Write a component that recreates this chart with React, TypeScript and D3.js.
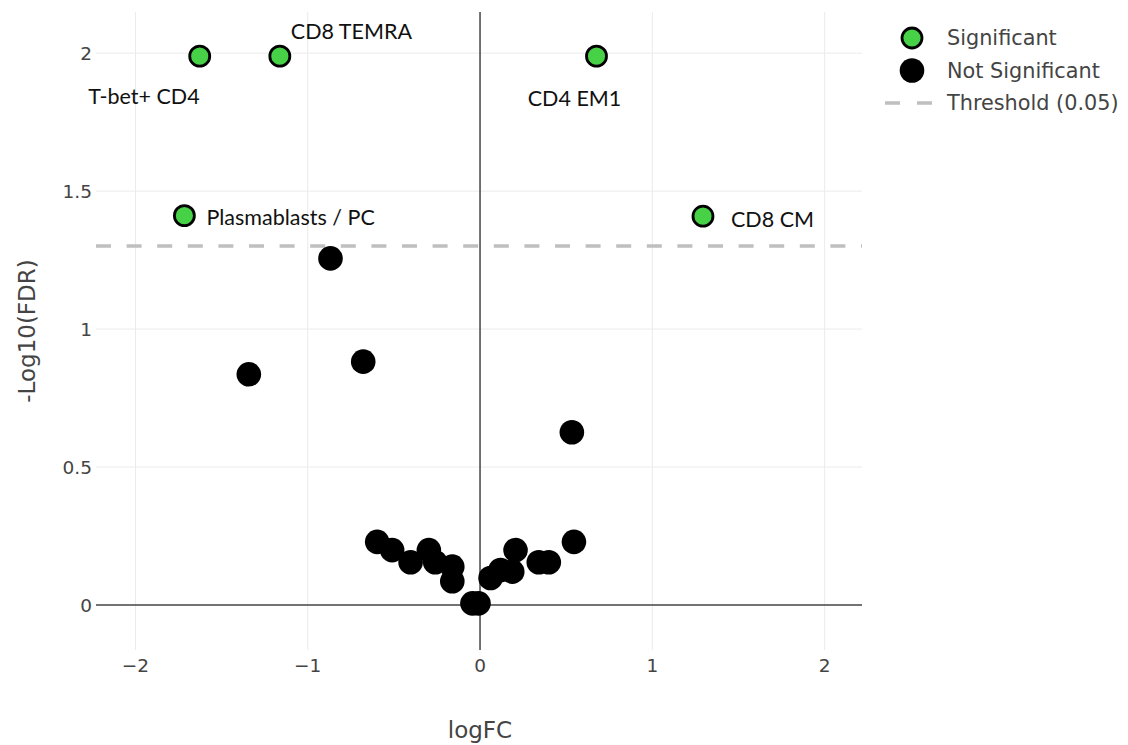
import React from "react";
import * as d3 from "d3";

// Significant populations (FDR < 0.05)
const sigLabels = ["T-bet+ CD4", "CD8 TEMRA", "Plasmablasts / PC", "CD4 EM1", "CD8 CM"];
const sigLogFC = [-1.627, -1.162, -1.716, 0.676, 1.294];
const sigNegLogFDR = [1.989, 1.989, 1.411, 1.989, 1.409];

// Non-significant populations
const nsLogFC = [
  -0.868, -1.342, -0.678, 0.533, -0.597, -0.51, -0.403, -0.297, -0.26, -0.161,
  -0.161, -0.044, -0.009, 0.061, 0.119, 0.187, 0.206, 0.341, 0.399, 0.545,
];
const nsNegLogFDR = [
  1.256, 0.836, 0.882, 0.626, 0.229, 0.199, 0.155, 0.199, 0.155, 0.139,
  0.086, 0.006, 0.006, 0.098, 0.127, 0.121, 0.199, 0.155, 0.155, 0.229,
];

const fdrThreshold = 0.05;
const xTicks = [-2, -1, 0, 1, 2];
const yTicks = [0, 0.5, 1, 1.5, 2];
const xDomain = [-2.229, 2.217];
const yDomain = [-0.163, 2.149];
const legendItems = ["Significant", "Not Significant", "Threshold (0.05)"];

// label placement relative to each marker
const labelPlacement: Record<string, { anchor: string; dx: number; dy: number }> = {
  "T-bet+ CD4": { anchor: "end", dx: 0, dy: 48 },
  "CD8 TEMRA": { anchor: "start", dx: 11, dy: -17 },
  "Plasmablasts / PC": { anchor: "start", dx: 22, dy: 9 },
  "CD4 EM1": { anchor: "middle", dx: -22, dy: 50 },
  "CD8 CM": { anchor: "start", dx: 28, dy: 11 },
};

const GREEN = "#47d147";
const TEXT = "#444";
const GRID = "#ebebeb";
const TICK_FONT = "'DejaVu Sans', Verdana, sans-serif";
const LABEL_FONT = "Lato, 'Open Sans', sans-serif";

export default function App() {
  const W = 1128;
  const H = 745;
  const left = 96, right = 862, top = 12, bottom = 650;

  const x = d3.scaleLinear().domain(xDomain).range([left, right]);
  const y = d3.scaleLinear().domain(yDomain).range([bottom, top]);
  const fmt = d3.format("");

  const thrY = y(-Math.log10(fdrThreshold));

  return (
    <svg
      width={W}
      height={H}
      style={{ position: "absolute", left: 0, top: 0, background: "#fff" }}
    >
      {/* grid */}
      {xTicks.filter((t) => t !== 0).map((t) => (
        <line key={"gx" + t} x1={x(t)} x2={x(t)} y1={top} y2={bottom} stroke={GRID} strokeWidth={1} />
      ))}
      {yTicks.filter((t) => t !== 0).map((t) => (
        <line key={"gy" + t} x1={left} x2={right} y1={y(t)} y2={y(t)} stroke={GRID} strokeWidth={1} />
      ))}

      {/* zero lines */}
      <line x1={left} x2={right} y1={y(0)} y2={y(0)} stroke="#444" strokeWidth={1.5} />
      <line x1={x(0)} x2={x(0)} y1={top} y2={bottom} stroke="#444" strokeWidth={1.5} />

      {/* threshold */}
      <line
        x1={left}
        x2={right}
        y1={thrY}
        y2={thrY}
        stroke="#bfbfbf"
        strokeWidth={3.5}
        strokeDasharray="15,15.6"
      />

      {/* tick labels */}
      {xTicks.map((t) => (
        <text
          key={"tx" + t}
          x={x(t)}
          y={672}
          textAnchor="middle"
          fontFamily={TICK_FONT}
          fontSize={18.5}
          fill={TEXT}
        >
          {fmt(t)}
        </text>
      ))}
      {yTicks.map((t) => (
        <text
          key={"ty" + t}
          x={92}
          y={y(t) + 6.5}
          textAnchor="end"
          fontFamily={TICK_FONT}
          fontSize={18.5}
          fill={TEXT}
        >
          {fmt(t)}
        </text>
      ))}

      {/* axis titles */}
      <text x={480} y={738} textAnchor="middle" fontFamily={TICK_FONT} fontSize={23} fill={TEXT}>
        logFC
      </text>
      <text
        transform={`translate(35, ${(top + bottom) / 2}) rotate(-90)`}
        textAnchor="middle"
        fontFamily={TICK_FONT}
        fontSize={23}
        fill={TEXT}
      >
        -Log10(FDR)
      </text>

      {/* non-significant markers */}
      {nsLogFC.map((v, i) => (
        <circle key={"ns" + i} cx={x(v)} cy={y(nsNegLogFDR[i])} r={12.3} fill="#000" />
      ))}

      {/* significant markers */}
      {sigLogFC.map((v, i) => (
        <circle
          key={"s" + i}
          cx={x(v)}
          cy={y(sigNegLogFDR[i])}
          r={10}
          fill={GREEN}
          stroke="#000"
          strokeWidth={2.8}
        />
      ))}

      {/* labels */}
      {sigLabels.map((lab, i) => {
        const p = labelPlacement[lab];
        return (
          <text
            key={"l" + i}
            x={x(sigLogFC[i]) + p.dx}
            y={y(sigNegLogFDR[i]) + p.dy}
            textAnchor={p.anchor}
            fontFamily={LABEL_FONT}
            fontSize={21.5}
            fill="#111"
          >
            {lab}
          </text>
        );
      })}

      {/* legend */}
      <g>
        <circle cx={912} cy={38} r={10} fill={GREEN} stroke="#000" strokeWidth={2.8} />
        <circle cx={912} cy={70.5} r={12.3} fill="#000" />
        <line x1={885} x2={936} y1={103} y2={103} stroke="#bfbfbf" strokeWidth={3.5} strokeDasharray="15,17" />
        {legendItems.map((t, i) => (
          <text
            key={"lg" + i}
            x={947}
            y={45 + i * 32.5}
            fontFamily={TICK_FONT}
            fontSize={20.8}
            fill={TEXT}
          >
            {t}
          </text>
        ))}
      </g>
    </svg>
  );
}
